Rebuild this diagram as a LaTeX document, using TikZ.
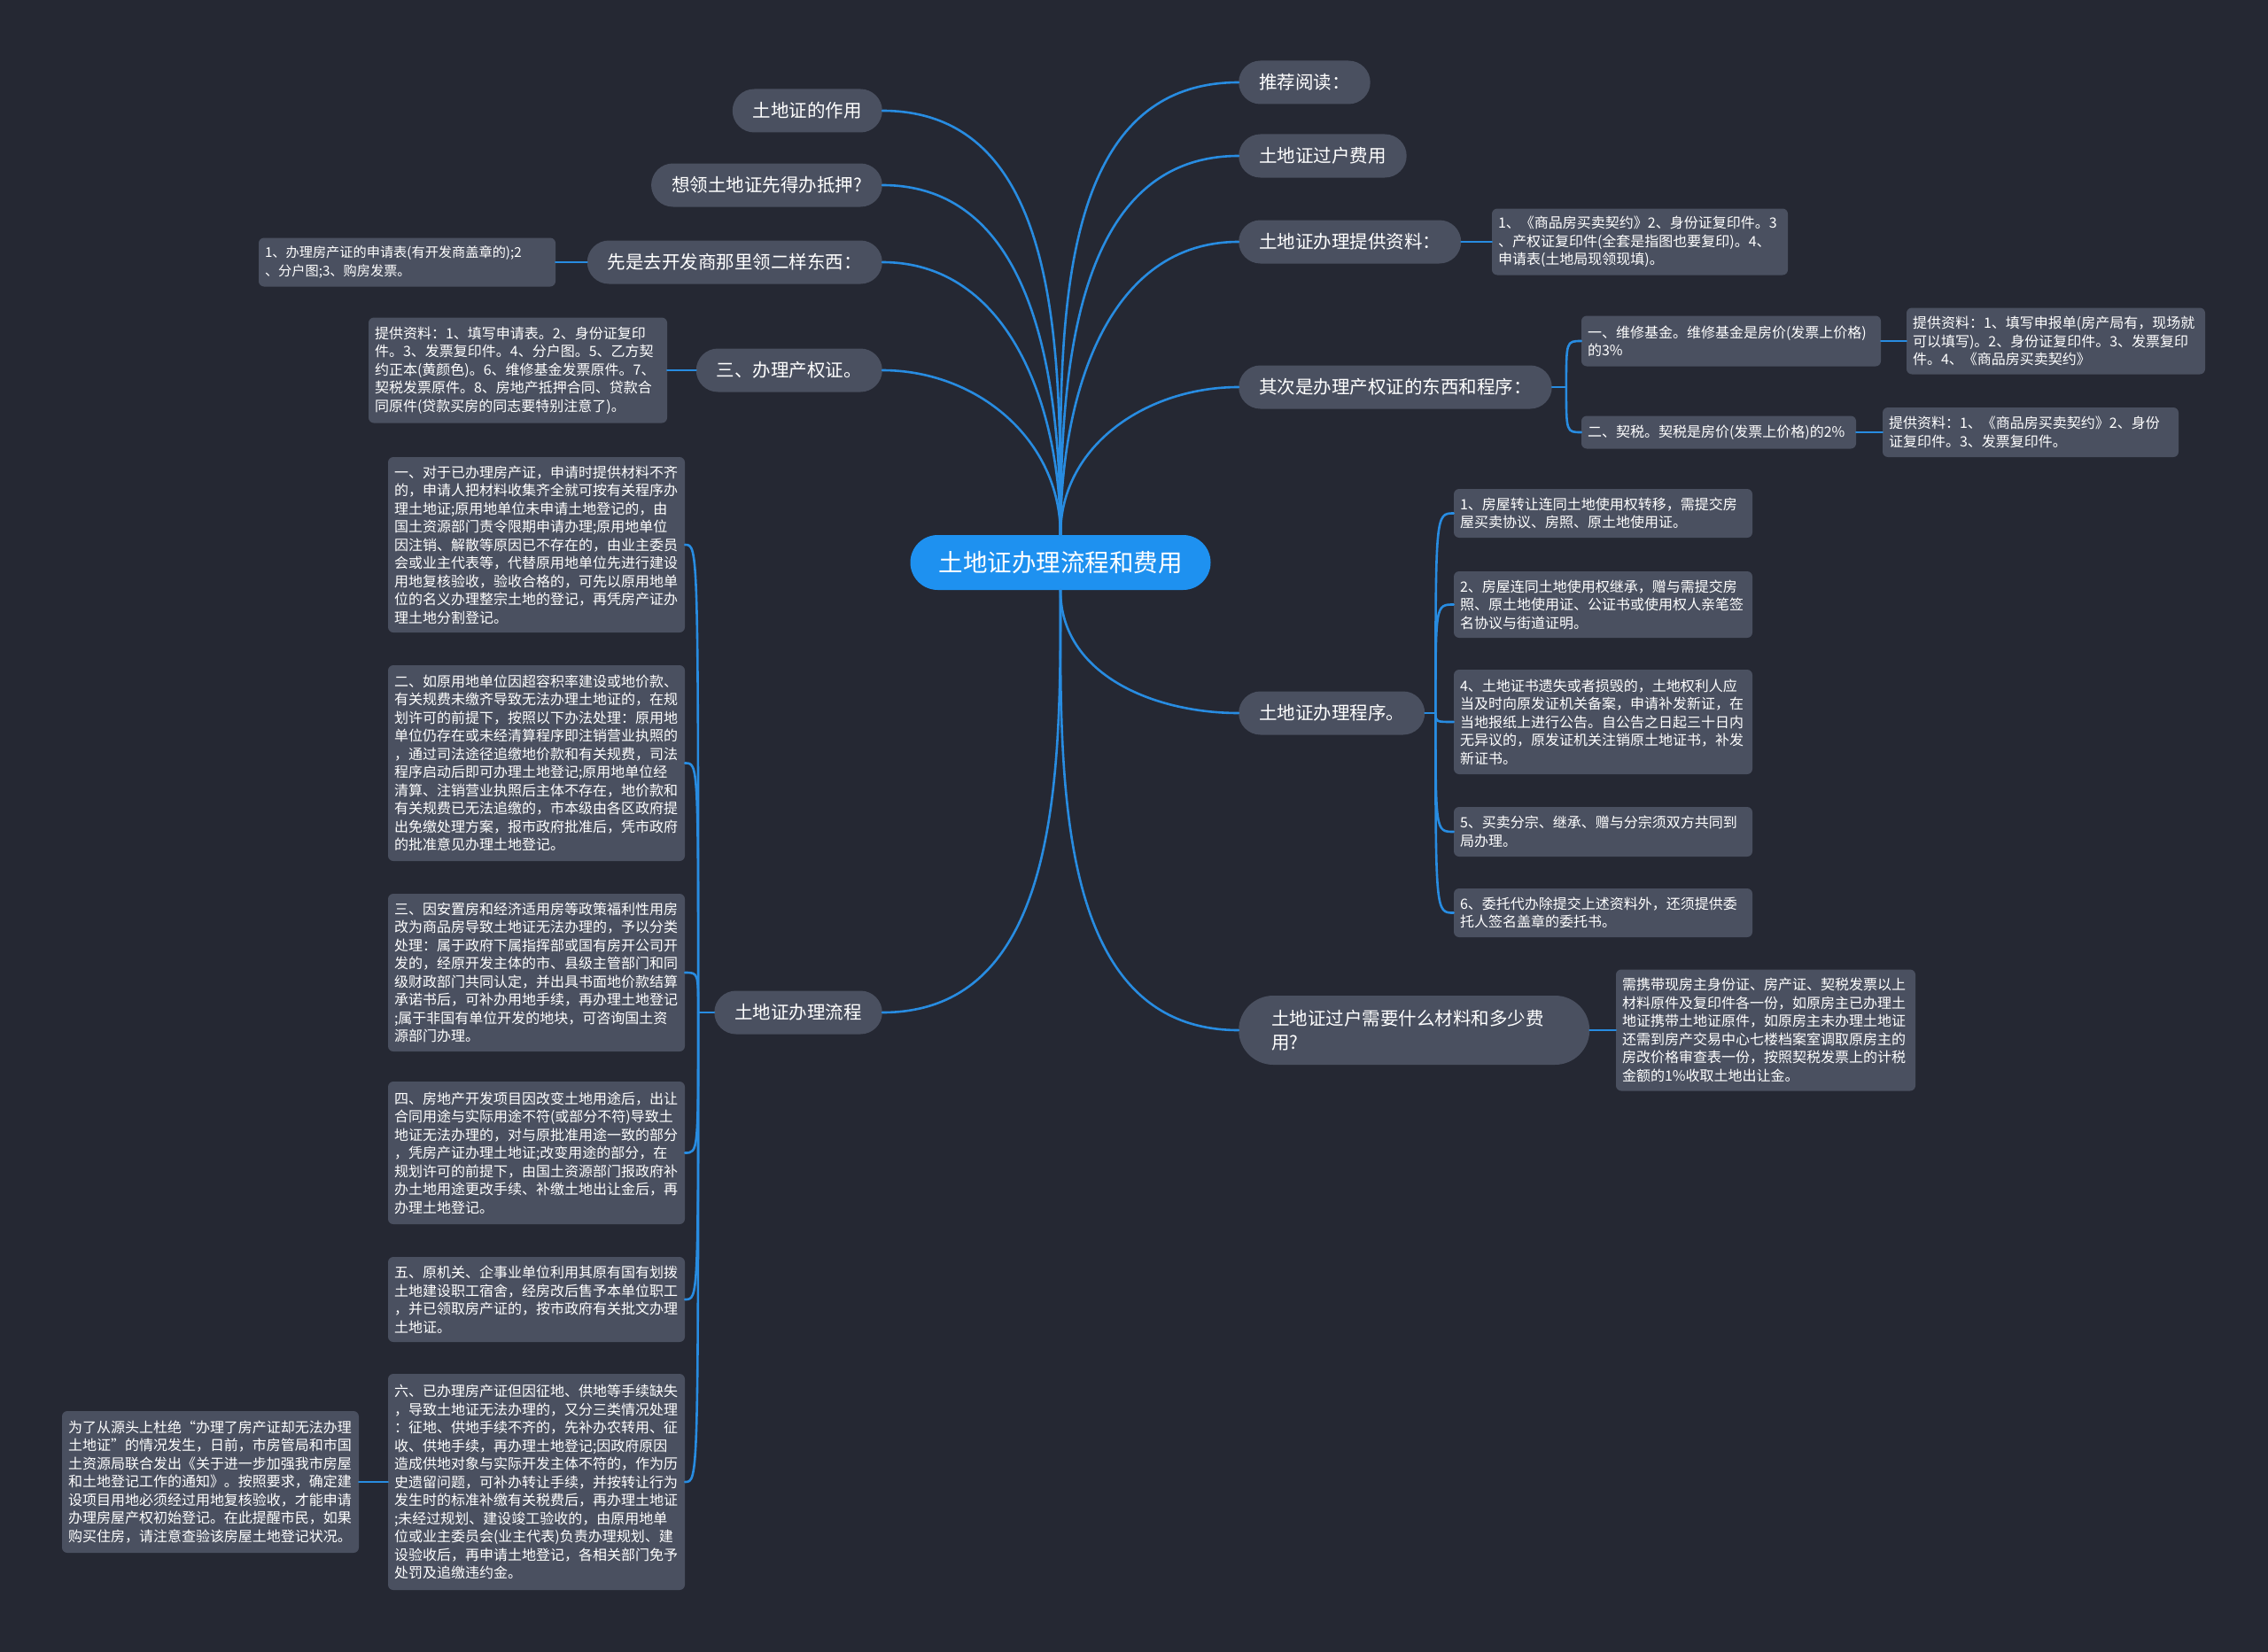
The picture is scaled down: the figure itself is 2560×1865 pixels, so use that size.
\documentclass[tikz,border=0pt]{standalone}
\usepackage{fontspec}
\setmainfont{Noto Sans CJK SC}
\definecolor{bgnavy}{RGB}{37,40,51}
\definecolor{boxgray}{RGB}{74,80,96}
\definecolor{linkblue}{RGB}{40,140,225}
\definecolor{rootblue}{RGB}{30,145,240}
\begin{document}
\begin{tikzpicture}[x=1pt, y=-1pt, line cap=round, line join=round,
    topic/.style={fill=boxgray, text=white, rounded corners=24.5pt, minimum height=49pt,
      inner xsep=23pt, inner ysep=0pt, font=\fontsize{20.5}{27}\selectfont},
    leaf/.style={fill=boxgray, text=white, rounded corners=6pt, inner xsep=7pt, inner ysep=0pt,
      align=left, text width=321pt, font=\fontsize{16}{20.5}\selectfont},
    link/.style={draw=linkblue, line width=2.6pt}]
    \fill[bgnavy] (0,0) rectangle (2560,1865);
    \useasboundingbox (0,0) rectangle (2560,1865);

    % root
    \node[fill=rootblue, text=white, rounded corners=31pt, minimum height=62pt, inner xsep=32pt,
      font=\fontsize{27.5}{33}\selectfont] (c) at (1197,635) {土地证办理流程和费用};

    % left topics
    \node[topic, anchor=east] (t1) at (996,125) {土地证的作用};
    \node[topic, anchor=east] (t2) at (996,209) {想领土地证先得办抵押?};
    \node[topic, anchor=east] (t3) at (996,296) {先是去开发商那里领二样东西：};
    \node[topic, anchor=east] (t4) at (996,418) {三、办理产权证。};
    \node[topic, anchor=east] (t5) at (996,1143) {土地证办理流程};

    % right topics
    \node[topic, anchor=west] (r1) at (1398,93) {推荐阅读：};
    \node[topic, anchor=west] (r2) at (1398,176) {土地证过户费用};
    \node[topic, anchor=west] (r3) at (1398,273) {土地证办理提供资料：};
    \node[topic, anchor=west] (r4) at (1398,437) {其次是办理产权证的东西和程序：};
    \node[topic, anchor=west] (r5) at (1398,805) {土地证办理程序。};
    \node[topic, anchor=west, text width=322pt, align=left, inner xsep=37pt, minimum height=78pt,
      rounded corners=39pt] (r6) at (1398,1163) {土地证过户需要什么材料和多少费\\用?};

    % left leaves
    \node[leaf, font=\fontsize{15.2}{20.5}\selectfont, minimum height=55pt] (l3a) at (459.5,296)
      {1、办理房产证的申请表(有开发商盖章的);2\\、分户图;3、购房发票。};
    \node[leaf, text width=323pt, minimum height=119pt] (l4a) at (584.5,418)
      {提供资料：1、填写申请表。2、身份证复印\\件。3、发票复印件。4、分户图。5、乙方契\\约正本(黄颜色)。6、维修基金发票原件。7、\\契税发票原件。8、房地产抵押合同、贷款合\\同原件(贷款买房的同志要特别注意了)。};
    \node[leaf, minimum height=198pt] (l5a) at (605.5,615)
      {一、对于已办理房产证，申请时提供材料不齐\\的，申请人把材料收集齐全就可按有关程序办\\理土地证;原用地单位未申请土地登记的，由\\国土资源部门责令限期申请办理;原用地单位\\因注销、解散等原因已不存在的，由业主委员\\会或业主代表等，代替原用地单位先进行建设\\用地复核验收，验收合格的，可先以原用地单\\位的名义办理整宗土地的登记，再凭房产证办\\理土地分割登记。};
    \node[leaf, minimum height=221pt] (l5b) at (605.5,861.5)
      {二、如原用地单位因超容积率建设或地价款、\\有关规费未缴齐导致无法办理土地证的，在规\\划许可的前提下，按照以下办法处理：原用地\\单位仍存在或未经清算程序即注销营业执照的\\，通过司法途径追缴地价款和有关规费，司法\\程序启动后即可办理土地登记;原用地单位经\\清算、注销营业执照后主体不存在，地价款和\\有关规费已无法追缴的，市本级由各区政府提\\出免缴处理方案，报市政府批准后，凭市政府\\的批准意见办理土地登记。};
    \node[leaf, minimum height=178pt] (l5c) at (605.5,1098)
      {三、因安置房和经济适用房等政策福利性用房\\改为商品房导致土地证无法办理的，予以分类\\处理：属于政府下属指挥部或国有房开公司开\\发的，经原开发主体的市、县级主管部门和同\\级财政部门共同认定，并出具书面地价款结算\\承诺书后，可补办用地手续，再办理土地登记\\;属于非国有单位开发的地块，可咨询国土资\\源部门办理。};
    \node[leaf, minimum height=161pt] (l5d) at (605.5,1301.5)
      {四、房地产开发项目因改变土地用途后，出让\\合同用途与实际用途不符(或部分不符)导致土\\地证无法办理的，对与原批准用途一致的部分\\，凭房产证办理土地证;改变用途的部分，在\\规划许可的前提下，由国土资源部门报政府补\\办土地用途更改手续、补缴土地出让金后，再\\办理土地登记。};
    \node[leaf, minimum height=96pt] (l5e) at (605.5,1467)
      {五、原机关、企事业单位利用其原有国有划拨\\土地建设职工宿舍，经房改后售予本单位职工\\，并已领取房产证的，按市政府有关批文办理\\土地证。};
    \node[leaf, minimum height=244pt] (l5f) at (605.5,1673)
      {六、已办理房产证但因征地、供地等手续缺失\\，导致土地证无法办理的，又分三类情况处理\\：征地、供地手续不齐的，先补办农转用、征\\收、供地手续，再办理土地登记;因政府原因\\造成供地对象与实际开发主体不符的，作为历\\史遗留问题，可补办转让手续，并按转让行为\\发生时的标准补缴有关税费后，再办理土地证\\;未经过规划、建设竣工验收的，由原用地单\\位或业主委员会(业主代表)负责办理规划、建\\设验收后，再申请土地登记，各相关部门免予\\处罚及追缴违约金。};
    \node[leaf, minimum height=160pt] (l5g) at (237.5,1673)
      {为了从源头上杜绝“办理了房产证却无法办理\\土地证”的情况发生，日前，市房管局和市国\\土资源局联合发出《关于进一步加强我市房屋\\和土地登记工作的通知》。按照要求，确定建\\设项目用地必须经过用地复核验收，才能申请\\办理房屋产权初始登记。在此提醒市民，如果\\购买住房，请注意查验该房屋土地登记状况。};

    % right leaves
    \node[leaf, text width=320pt, minimum height=75pt] (r3a) at (1851,273)
      {1、《商品房买卖契约》2、身份证复印件。3\\、产权证复印件(全套是指图也要复印)。4、\\申请表(土地局现领现填)。};
    \node[leaf, text width=324pt, minimum height=57pt] (r4a) at (1954,385)
      {一、维修基金。维修基金是房价(发票上价格)\\的3\%};
    \node[leaf, text width=323pt, minimum height=75pt] (r4a1) at (2320.5,385)
      {提供资料：1、填写申报单(房产局有，现场就\\可以填写)。2、身份证复印件。3、发票复印\\件。4、《商品房买卖契约》};
    \node[leaf, text width=296pt, minimum height=37pt] (r4b) at (1940,488)
      {二、契税。契税是房价(发票上价格)的2\%};
    \node[leaf, text width=320pt, minimum height=56pt] (r4b1) at (2292,488)
      {提供资料：1、《商品房买卖契约》2、身份\\证复印件。3、发票复印件。};
    \node[leaf, text width=323pt, minimum height=55pt] (r5a) at (1809.5,579.5)
      {1、房屋转让连同土地使用权转移，需提交房\\屋买卖协议、房照、原土地使用证。};
    \node[leaf, text width=323pt, minimum height=75pt] (r5b) at (1809.5,682.5)
      {2、房屋连同土地使用权继承，赠与需提交房\\照、原土地使用证、公证书或使用权人亲笔签\\名协议与街道证明。};
    \node[leaf, text width=323pt, minimum height=118pt] (r5c) at (1809.5,815)
      {4、土地证书遗失或者损毁的，土地权利人应\\当及时向原发证机关备案，申请补发新证，在\\当地报纸上进行公告。自公告之日起三十日内\\无异议的，原发证机关注销原土地证书，补发\\新证书。};
    \node[leaf, text width=323pt, minimum height=56pt] (r5d) at (1809.5,939)
      {5、买卖分宗、继承、赠与分宗须双方共同到\\局办理。};
    \node[leaf, text width=323pt, minimum height=55pt] (r5e) at (1809.5,1030.5)
      {6、委托代办除提交上述资料外，还须提供委\\托人签名盖章的委托书。};
    \node[leaf, text width=324pt, minimum height=137pt] (r6a) at (1993,1163)
      {需携带现房主身份证、房产证、契税发票以上\\材料原件及复印件各一份，如原房主已办理土\\地证携带土地证原件，如原房主未办理土地证\\还需到房产交易中心七楼档案室调取原房主的\\房改价格审查表一份，按照契税发票上的计税\\金额的1\%收取土地出让金。};

    % root links
    \foreach \n in {t1,t2,t3,t4} \draw[link] (c.north) to[out=90,in=0] (\n.east);
    \foreach \n in {r1,r2,r3,r4} \draw[link] (c.north) to[out=90,in=180] (\n.west);
    \draw[link] (c.south) to[out=-90,in=0] (t5.east);
    \foreach \n in {r5,r6} \draw[link] (c.south) to[out=-90,in=180] (\n.west);

    % brackets
    \draw[link] (t5.west) -- ++(-18,0) coordinate (t5s);
    \foreach \n in {a,b,c,d,e,f} \draw[link] (t5s) .. controls (t5s |- l5\n.east) .. (l5\n.east);
    \draw[link] (r4.east) -- ++(16,0) coordinate (r4s);
    \foreach \n in {a,b} \draw[link] (r4s) .. controls (r4s |- r4\n.west) .. (r4\n.west);
    \draw[link] (r5.east) -- ++(12,0) coordinate (r5s);
    \foreach \n in {a,b,c,d,e} \draw[link] (r5s) .. controls (r5s |- r5\n.west) .. (r5\n.west);

    % single links
    \draw[link] (t3.west) -- (l3a.east);
    \draw[link] (t4.west) -- (l4a.east);
    \draw[link] (l5f.west) -- (l5g.east);
    \draw[link] (r3.east) -- (r3a.west);
    \draw[link] (r4a.east) -- (r4a1.west);
    \draw[link] (r4b.east) -- (r4b1.west);
    \draw[link] (r6.east) -- (r6a.west);
  \end{tikzpicture}
\end{document}
